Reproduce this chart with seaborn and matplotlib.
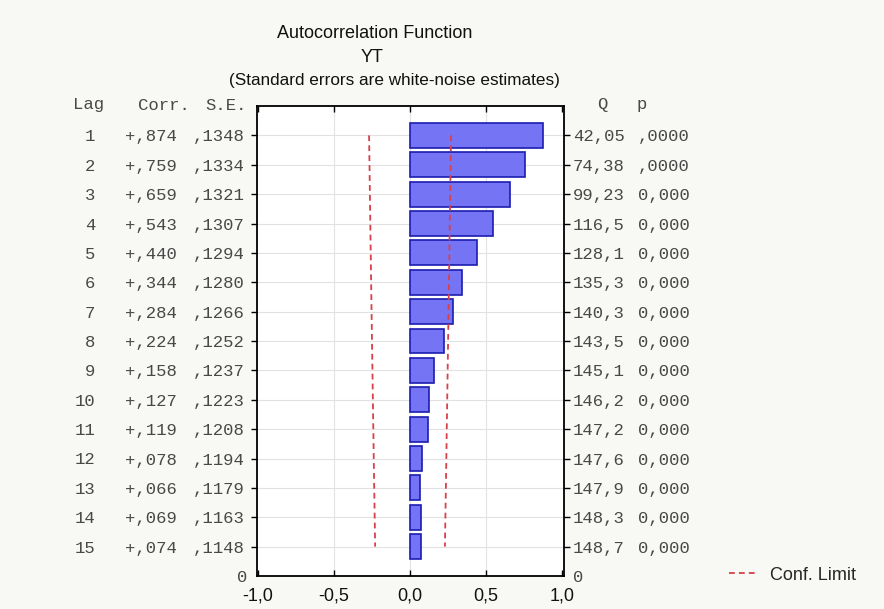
import numpy as np
import pandas as pd
import matplotlib
matplotlib.use("Agg")
import matplotlib.pyplot as plt
import seaborn as sns
from matplotlib.lines import Line2D

# Autocorrelation table for YT
lags = [1, 2, 3, 4, 5, 6, 7, 8, 9, 10, 11, 12, 13, 14, 15]
corr = [0.874, 0.759, 0.659, 0.543, 0.440, 0.344, 0.284, 0.224, 0.158, 0.127,
        0.119, 0.078, 0.066, 0.069, 0.074]
se = [0.1348, 0.1334, 0.1321, 0.1307, 0.1294, 0.1280, 0.1266, 0.1252, 0.1237,
      0.1223, 0.1208, 0.1194, 0.1179, 0.1163, 0.1148]
corr_labels = ["+,874", "+,759", "+,659", "+,543", "+,440", "+,344", "+,284", "+,224",
               "+,158", "+,127", "+,119", "+,078", "+,066", "+,069", "+,074"]
se_labels = [",1348", ",1334", ",1321", ",1307", ",1294", ",1280", ",1266", ",1252",
             ",1237", ",1223", ",1208", ",1194", ",1179", ",1163", ",1148"]
q_labels = ["42,05", "74,38", "99,23", "116,5", "128,1", "135,3", "140,3", "143,5",
            "145,1", "146,2", "147,2", "147,6", "147,9", "148,3", "148,7"]
p_labels = [",0000", ",0000", "0,000", "0,000", "0,000", "0,000", "0,000", "0,000",
            "0,000", "0,000", "0,000", "0,000", "0,000", "0,000", "0,000"]
x_ticks = [-1.0, -0.5, 0.0, 0.5, 1.0]
x_tick_labels = ["-1,0", "-0,5", "0,0", "0,5", "1,0"]

df = pd.DataFrame({"lag": lags, "corr": corr, "se": se})
df["upper"] = 2 * df["se"]
df["lower"] = -2 * df["se"]

sns.set_theme(style="white")
plt.rcParams["font.family"] = ["Liberation Sans", "DejaVu Sans"]

W, H = 884, 609
bg = "#f8f8f4"
red = "#d8404a"
fig = plt.figure(figsize=(W / 100, H / 100), dpi=100, facecolor=bg)
ax = fig.add_axes([257 / W, 1 - 576 / H, 307 / W, 470 / H])
ax.set_facecolor("white")

# light grid behind bars
for v in [-0.5, 0.0, 0.5]:
    ax.axvline(v, color="#e2e2e2", lw=0.8, zorder=0)
for l in lags:
    ax.axhline(l, color="#e2e2e2", lw=0.8, zorder=0)

sns.barplot(data=df, x="corr", y="lag", orient="h", native_scale=True,
            color="#7474f4", saturation=1, edgecolor="#1c1cb0", linewidth=1.2,
            width=0.85, ax=ax, zorder=2)

for col in ["upper", "lower"]:
    sns.lineplot(data=df, x=col, y="lag", sort=False, estimator=None, orient="y",
                 color=red, lw=1.3, dashes=(3.2, 2.3), ax=ax, zorder=3)

ax.set_xlim(-1.007, 1.013)
ax.set_ylim(16, 0)
ax.set_xlabel("")
ax.set_ylabel("")

ax.set_xticks(x_ticks)
ax.set_xticklabels(x_tick_labels, fontsize=13)
ax.set_yticks(lags)
ax.set_yticklabels([])
ax.tick_params(axis="x", direction="in", length=4, width=1, pad=8, colors="black",
               top=True, bottom=True)
ax.tick_params(axis="y", direction="out", length=4, width=1, left=True, right=True,
               colors="black")
for lab in ax.get_xticklabels():
    lab.set_color("#111111")
for s in ax.spines.values():
    s.set_visible(True)
    s.set_color("black")
    s.set_linewidth(1.3)

# text columns flanking the axes
mono = dict(family="Liberation Mono", fontsize=12.4, color="#484848", va="center")
for i, l in enumerate(lags):
    yy = ax.transData.transform((0, l))[1] / fig.bbox.height - 1.5 / H
    fig.text(95 / W, yy, str(l), ha="right", **mono)
    fig.text(125 / W, yy, corr_labels[i], ha="left", **mono)
    fig.text(193 / W, yy, se_labels[i], ha="left", **mono)
    fig.text(573 / W, yy, q_labels[i], ha="left", **mono)
    fig.text(638 / W, yy, p_labels[i], ha="left", **mono)

head_y = 1 - 105 / H
fig.text(73 / W, head_y, "Lag", ha="left", **mono)
fig.text(138 / W, head_y, "Corr.", ha="left", **mono)
fig.text(205 / W, head_y, "S.E.", ha="left", **mono)
fig.text(602 / W, head_y, "Q", ha="center", **mono)
fig.text(642 / W, head_y, "p", ha="center", **mono)

zero_y = 1 - 578 / H
fig.text(242 / W, zero_y, "0", ha="center", **mono)
fig.text(578 / W, zero_y, "0", ha="center", **mono)

# titles
fig.text(375 / W, 1 - 33 / H, "Autocorrelation Function", ha="center", va="center",
         fontsize=13, color="#111111")
fig.text(372 / W, 1 - 58 / H, "YT", ha="center", va="center", fontsize=13,
         color="#111111")
fig.text(394 / W, 1 - 81 / H, "(Standard errors are white-noise estimates)",
         ha="center", va="center", fontsize=12.3, color="#111111")

handle = Line2D([], [], color=red, lw=1.3, dashes=(3.2, 2.3))
fig.legend([handle], ["Conf. Limit"], loc="center left",
           bbox_to_anchor=(729 / W, 1 - 575 / H), frameon=False, fontsize=13,
           handlelength=1.6, handletextpad=0.65, borderpad=0, borderaxespad=0)

fig.savefig("out.png", dpi=100, facecolor=bg)
